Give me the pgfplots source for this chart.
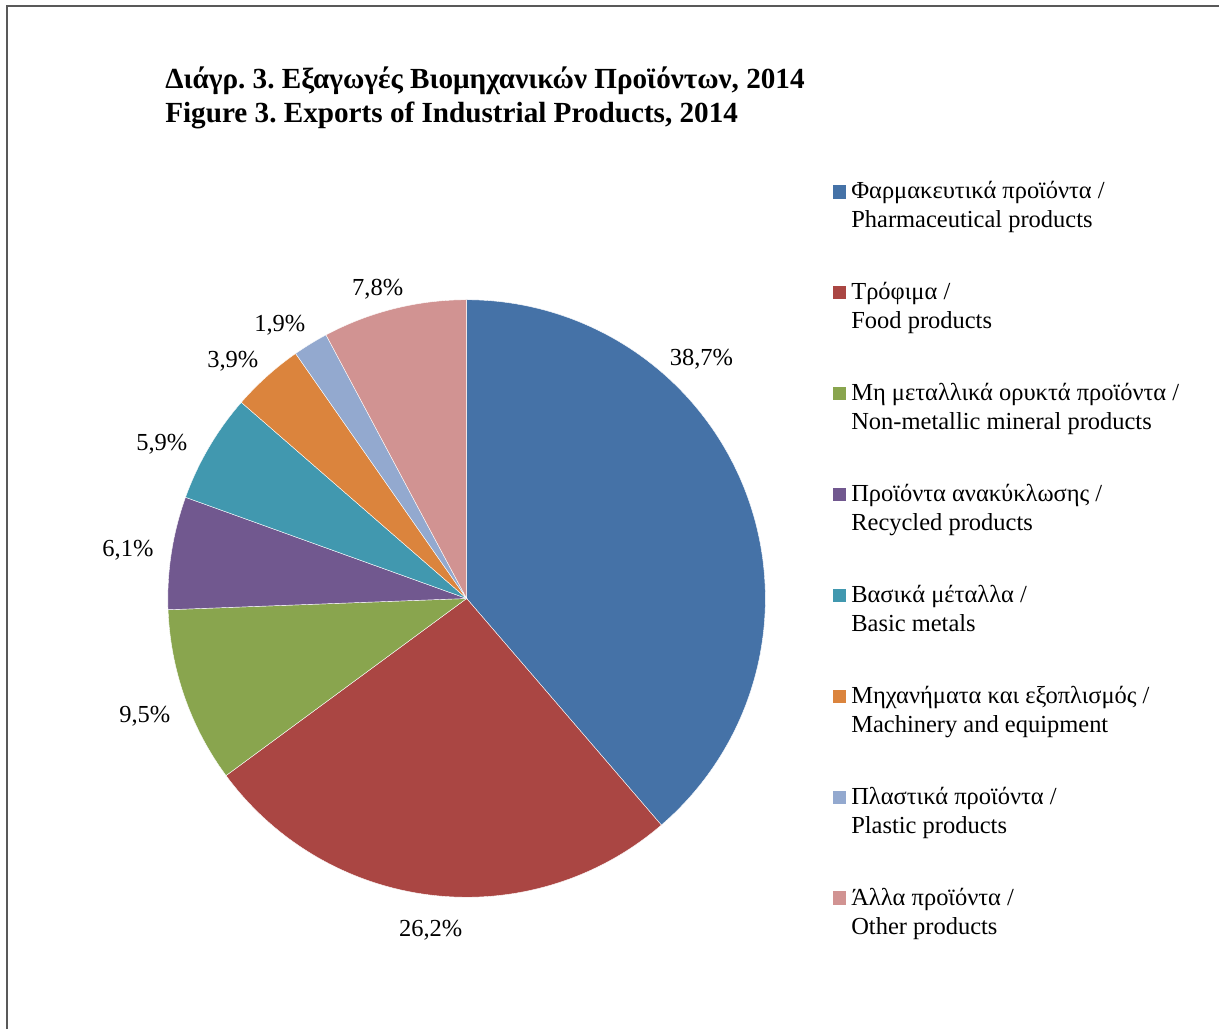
\documentclass[border=0pt]{standalone}
\usepackage{pgfplots}
\pgfplotsset{compat=1.18}
\usepackage{fontspec}
\setmainfont{Liberation Serif}
\frenchspacing
\definecolor{c1}{HTML}{4572A7}
\definecolor{c2}{HTML}{AA4643}
\definecolor{c3}{HTML}{89A54E}
\definecolor{c4}{HTML}{71588F}
\definecolor{c5}{HTML}{4198AF}
\definecolor{c6}{HTML}{DB843D}
\definecolor{c7}{HTML}{93A9CF}
\definecolor{c8}{HTML}{D19392}
\newcommand{\lf}{\fontsize{12.25}{14.5}\selectfont}
\newcommand{\two}[2]{\begin{tabular}{@{}l@{}}#1\\#2\end{tabular}}
\begin{document}
\begin{tikzpicture}
\begin{axis}[
  x=0.5pt, y=0.5pt, xmin=0, xmax=1220, ymin=0, ymax=1030,
  hide axis, clip=false,
  legend cell align=left,
  legend style={draw=none, fill=none, inner sep=0pt, outer sep=0pt,
    at={(axis cs:834,851.3)}, anchor=north west,
    font=\lf, row sep=31.5pt, nodes={inner sep=0pt},
    /tikz/every odd column/.append style={column sep=2.5pt}},
  legend image code/.code={\fill[#1, draw=none] (0pt,-0.5pt) rectangle (6.5pt,6.25pt);},
  pie/.style={draw=white, line width=0.2pt, samples=120, variable=\t},
]
\path (axis cs:0,0) rectangle (axis cs:1220,1030);
\draw[black!65, line width=1pt] (axis cs:7,0) -- (axis cs:7,1024) -- (axis cs:1220,1024);
% slices: percentages 38.7, 26.2, 9.5, 6.1, 5.9, 3.9, 1.9, 7.8 ; clockwise from top
\addplot[pie, fill=c1, domain={90-3.6*(38.7)}:{90}]
  ({467+299*cos(\t)},{431+299*sin(\t)}) -- (axis cs:467,431) -- cycle;
\addlegendentry{\two{Φαρμακευτικά προϊόντα /}{Pharmaceutical products}}
\addplot[pie, fill=c2, domain={90-3.6*(38.7+26.2)}:{90-3.6*(38.7)}]
  ({467+299*cos(\t)},{431+299*sin(\t)}) -- (axis cs:467,431) -- cycle;
\addlegendentry{\two{Τρόφιμα /}{Food products}}
\addplot[pie, fill=c3, domain={90-3.6*(38.7+26.2+9.5)}:{90-3.6*(38.7+26.2)}]
  ({467+299*cos(\t)},{431+299*sin(\t)}) -- (axis cs:467,431) -- cycle;
\addlegendentry{\two{Μη μεταλλικά ορυκτά προϊόντα /}{Non-metallic mineral products}}
\addplot[pie, fill=c4, domain={90-3.6*(38.7+26.2+9.5+6.1)}:{90-3.6*(38.7+26.2+9.5)}]
  ({467+299*cos(\t)},{431+299*sin(\t)}) -- (axis cs:467,431) -- cycle;
\addlegendentry{\two{Προϊόντα ανακύκλωσης /}{Recycled products}}
\addplot[pie, fill=c5, domain={90-3.6*(38.7+26.2+9.5+6.1+5.9)}:{90-3.6*(38.7+26.2+9.5+6.1)}]
  ({467+299*cos(\t)},{431+299*sin(\t)}) -- (axis cs:467,431) -- cycle;
\addlegendentry{\two{Βασικά μέταλλα /}{Basic metals}}
\addplot[pie, fill=c6, domain={90-3.6*(38.7+26.2+9.5+6.1+5.9+3.9)}:{90-3.6*(38.7+26.2+9.5+6.1+5.9)}]
  ({467+299*cos(\t)},{431+299*sin(\t)}) -- (axis cs:467,431) -- cycle;
\addlegendentry{\two{Μηχανήματα και εξοπλισμός /}{Machinery and equipment}}
\addplot[pie, fill=c7, domain={90-3.6*(38.7+26.2+9.5+6.1+5.9+3.9+1.9)}:{90-3.6*(38.7+26.2+9.5+6.1+5.9+3.9)}]
  ({467+299*cos(\t)},{431+299*sin(\t)}) -- (axis cs:467,431) -- cycle;
\addlegendentry{\two{Πλαστικά προϊόντα /}{Plastic products}}
\addplot[pie, fill=c8, domain={90-3.6*(38.7+26.2+9.5+6.1+5.9+3.9+1.9+7.8)}:{90-3.6*(38.7+26.2+9.5+6.1+5.9+3.9+1.9)}]
  ({467+299*cos(\t)},{431+299*sin(\t)}) -- (axis cs:467,431) -- cycle;
\addlegendentry{\two{Άλλα προϊόντα /}{Other products}}
% data labels
\node[font=\lf] at (axis cs:702,670) {38,7\%};
\node[font=\lf] at (axis cs:431,99) {26,2\%};
\node[font=\lf] at (axis cs:145,313) {9,5\%};
\node[font=\lf] at (axis cs:128,479) {6,1\%};
\node[font=\lf] at (axis cs:162,585) {5,9\%};
\node[font=\lf] at (axis cs:233,668) {3,9\%};
\node[font=\lf] at (axis cs:280,704) {1,9\%};
\node[font=\lf] at (axis cs:378,741) {7,8\%};
% title
\node[anchor=base west, inner sep=0pt, font=\bfseries\fontsize{14.6}{16}\selectfont] at (axis cs:165,941) {Διάγρ. 3. Εξαγωγές Βιομηχανικών Προϊόντων, 2014};
\node[anchor=base west, inner sep=0pt, font=\bfseries\fontsize{14.6}{16}\selectfont] at (axis cs:165,907) {Figure 3. Exports of Industrial Products, 2014};
\end{axis}
\end{tikzpicture}
\end{document}
